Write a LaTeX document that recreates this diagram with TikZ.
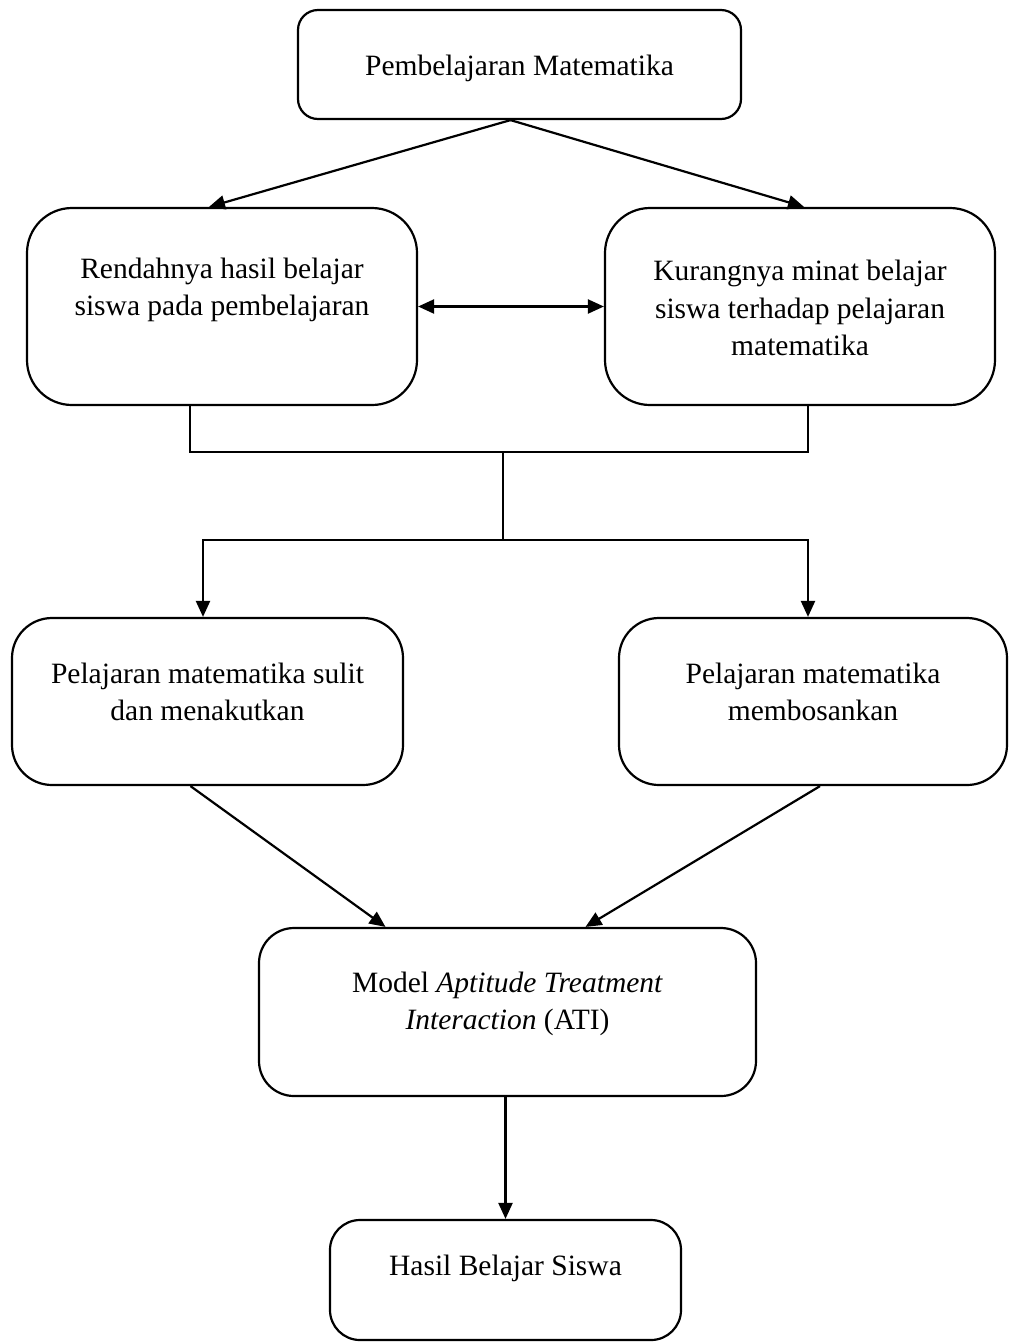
\documentclass[tikz,border=0pt]{standalone}
\usepackage{fontspec}
\setmainfont{Liberation Serif}
\usetikzlibrary{arrows.meta}
\begin{document}
\begin{tikzpicture}[x=1pt,y=-1pt,
  box/.style={draw, line width=2.2pt, rounded corners=#1, inner sep=0pt},
  txt/.style={align=center, inner sep=0pt, font=\fontsize{29.5}{37.5}\selectfont},
  conn/.style={line width=2.2pt},
  arr/.style={conn, -{Triangle[length=16pt,width=14pt]}},
  darr/.style={conn, {Triangle[length=16pt,width=14pt]}-{Triangle[length=16pt,width=14pt]}}]
\useasboundingbox (0,0) rectangle (1009,1342);

\node[box=20pt, minimum width=443pt, minimum height=109pt] (top) at (519.5,64.5) {};
\node[txt] (ttop) at (519.5,68) {Pembelajaran Matematika};

\node[box=45pt, minimum width=390pt, minimum height=197pt] (l1) at (222,306.5) {};
\node[txt] (tl1) at (222,290) {Rendahnya hasil belajar\\siswa pada pembelajaran};

\node[box=45pt, minimum width=390pt, minimum height=197pt] (r1) at (800,306.5) {};
\node[txt] (tr1) at (800,308) {Kurangnya minat belajar\\siswa terhadap pelajaran\\matematika};

\node[box=40pt, minimum width=391pt, minimum height=167pt] (l2) at (207.5,701.5) {};
\node[txt] (tl2) at (207.5,692) {Pelajaran matematika sulit\\dan menakutkan};

\node[box=40pt, minimum width=388pt, minimum height=167pt] (r2) at (813,701.5) {};
\node[txt] (tr2) at (813,692) {Pelajaran matematika\\membosankan};

\node[box=35pt, minimum width=497pt, minimum height=168pt] (mod) at (507.5,1012) {};
\node[txt] (tmod) at (507.5,1004) {Model \textit{Aptitude Treatment}\\\textit{Interaction} (ATI)};

\node[box=30pt, minimum width=351pt, minimum height=120pt] (hasil) at (505.5,1280) {};
\node[txt] (thasil) at (505.5,1268) {Hasil Belajar Siswa};

\coordinate (j1) at (503,452);
\coordinate (j2) at (503,540);

\draw[arr] ([xshift=-9pt]top.south) -- ([xshift=-13pt]l1.north);
\draw[arr] ([xshift=-9pt]top.south) -- ([xshift=4pt]r1.north);
\draw[darr] (l1.east) -- (r1.west);

\draw[conn] ([xshift=-32pt]l1.south) |- (j1) -| ([xshift=8pt]r1.south);
\draw[conn] (j1) -- (j2);
\draw[arr] (j2) -| ([xshift=-4.5pt]l2.north);
\draw[arr] (j2) -| ([xshift=-5pt]r2.north);

\draw[arr] ([xshift=-17pt]l2.south) -- ([xshift=-122pt]mod.north);
\draw[arr] ([xshift=7pt]r2.south) -- ([xshift=78pt]mod.north);

\draw[arr] (mod.south -| hasil.north) -- (hasil.north);
\end{tikzpicture}
\end{document}
